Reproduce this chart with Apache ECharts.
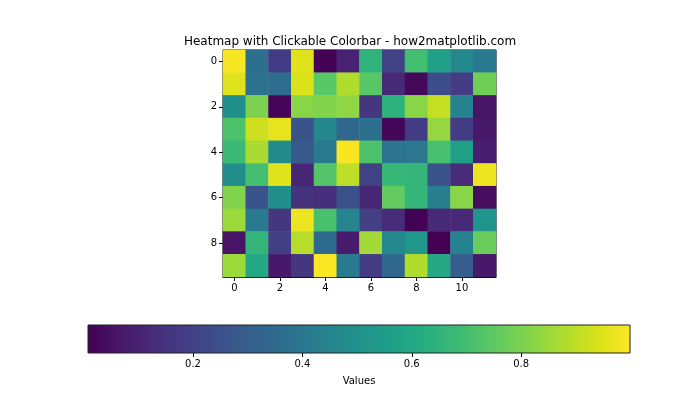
<!DOCTYPE html>
<html>
<head>
<meta charset="utf-8">
<script src="https://cdn.jsdelivr.net/npm/echarts@6/dist/echarts.min.js"></script>
<style>html,body{margin:0;padding:0;background:#fff;}#c{width:700px;height:420px;}</style>
</head>
<body>
<div id="c"></div>
<script>
const xCategories = ['0','1','2','3','4','5','6','7','8','9','10','11'];
const yCategories = ['0','1','2','3','4','5','6','7','8','9'];
const row0 = [0.99,0.37,0.18,0.95,0.01,0.10,0.65,0.20,0.70,0.57,0.47,0.41];
const row1 = [0.95,0.38,0.36,0.94,0.74,0.88,0.74,0.12,0.03,0.24,0.18,0.78];
const row2 = [0.50,0.80,0.02,0.82,0.81,0.83,0.16,0.64,0.82,0.91,0.44,0.06];
const row3 = [0.72,0.92,0.96,0.26,0.46,0.34,0.37,0.02,0.18,0.84,0.18,0.07];
const row4 = [0.68,0.87,0.48,0.28,0.41,0.99,0.72,0.39,0.40,0.71,0.56,0.09];
const row5 = [0.49,0.70,0.95,0.11,0.73,0.90,0.20,0.67,0.66,0.26,0.13,0.97];
const row6 = [0.81,0.26,0.50,0.15,0.14,0.25,0.11,0.76,0.66,0.43,0.82,0.04];
const row7 = [0.85,0.41,0.16,0.97,0.71,0.45,0.19,0.13,0.01,0.12,0.12,0.52];
const row8 = [0.06,0.66,0.19,0.89,0.35,0.08,0.86,0.47,0.53,0.008,0.44,0.77];
const row9 = [0.85,0.60,0.07,0.16,0.995,0.41,0.18,0.34,0.88,0.60,0.30,0.07];
const rows = [row0,row1,row2,row3,row4,row5,row6,row7,row8,row9];
const colorbarTicks = [0.2,0.4,0.6,0.8];
const vMin = 0.008, vMax = 0.999;
const viridis = ['#440154','#48186a','#472d7b','#424086','#3b528b','#33638d','#2c728e','#26828e','#21918c','#1fa088','#28ae80','#3fbc73','#5ec962','#84d44b','#addc30','#d8e219','#fde725'];

const data = [];
rows.forEach((r, yi) => r.forEach((v, xi) => data.push([xi, yi, v])));

const font = 'DejaVu Sans';
const chart = echarts.init(document.getElementById('c'), null, {renderer:'canvas'});
const cbLeft = 88, cbTop = 325, cbW = 542, cbH = 28;
chart.setOption({
  animation: false,
  textStyle: {fontFamily: font},
  title: {text: 'Heatmap with Clickable Colorbar - how2matplotlib.com', left: 'center', top: 31,
    textStyle: {fontFamily: font, fontSize: 12, fontWeight: 'normal', color: '#000'}},
  grid: [
    {left: 223, top: 50, width: 273, height: 227, show: true, borderColor: '#000', borderWidth: 1, backgroundColor: 'transparent'},
    {left: cbLeft, top: cbTop, width: cbW, height: cbH, show: false}
  ],
  xAxis: [
    {type: 'category', data: xCategories, gridIndex: 0, position: 'bottom',
      axisLine: {show: true, lineStyle: {color: '#000'}},
      axisTick: {show: true, alignWithLabel: true, interval: 1, length: 4, lineStyle: {color: '#000'}},
      axisLabel: {interval: 1, color: '#000', fontSize: 10, fontFamily: font, margin: 6},
      splitLine: {show: false}},
    {type: 'value', gridIndex: 1, min: vMin, max: vMax, position: 'bottom',
      name: 'Values', nameLocation: 'middle', nameGap: 23,
      nameTextStyle: {color: '#000', fontSize: 10, fontFamily: font},
      axisLine: {show: false},
      axisTick: {show: true, customValues: colorbarTicks, length: 4, lineStyle: {color: '#000'}},
      axisLabel: {customValues: colorbarTicks, color: '#000', fontSize: 10, fontFamily: font, margin: 6,
        formatter: v => v.toFixed(1)},
      splitLine: {show: false}}
  ],
  yAxis: [
    {type: 'category', data: yCategories, gridIndex: 0, inverse: true,
      axisLine: {show: true, lineStyle: {color: '#000'}},
      axisTick: {show: true, alignWithLabel: true, interval: 1, length: 4, lineStyle: {color: '#000'}},
      axisLabel: {interval: 1, color: '#000', fontSize: 10, fontFamily: font, margin: 6},
      splitLine: {show: false}},
    {type: 'value', gridIndex: 1, show: false, min: 0, max: 1}
  ],
  visualMap: {show: false, min: vMin, max: vMax, seriesIndex: 0, inRange: {color: viridis}},
  graphic: [
    {type: 'rect', z: 1, shape: {x: cbLeft, y: cbTop, width: cbW, height: cbH},
      style: {fill: new echarts.graphic.LinearGradient(0, 0, 1, 0,
        viridis.map((c, i) => ({offset: i / (viridis.length - 1), color: c}))),
        stroke: '#222', lineWidth: 1}}
  ],
  series: [
    {type: 'heatmap', xAxisIndex: 0, yAxisIndex: 0, data: data, itemStyle: {borderWidth: 0}, emphasis: {disabled: true}}
  ]
});
</script>
</body>
</html>
